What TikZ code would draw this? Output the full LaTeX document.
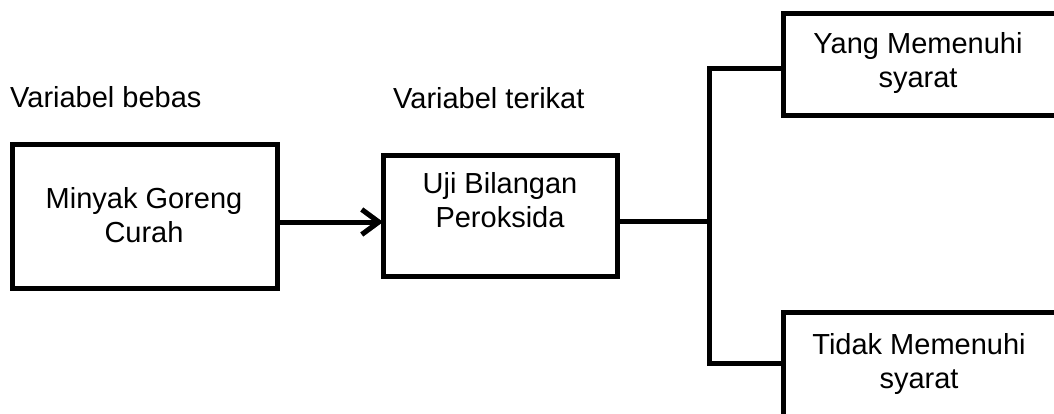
\documentclass[tikz,border=0pt]{standalone}
\usepackage{fontspec}
\setmainfont{Liberation Sans}
\usetikzlibrary{arrows.meta,calc}
\begin{document}
\begin{tikzpicture}[x=1pt,y=-1pt,
  box/.style={draw=black,line width=5pt,minimum width=#1,inner sep=0pt,outer sep=0pt},
  txt/.style={font=\fontsize{29}{34}\selectfont,align=center,inner sep=0pt},
  lab/.style={font=\fontsize{29}{34}\selectfont,inner sep=0pt,anchor=base west},
  conn/.style={line width=5pt,line join=miter},
  shadow/.style={conn,draw=black!38,shift={(-1.5,3.5)}},
  arr/.style={-{Straight Barb[length=17pt,width=25pt]}}
]
\clip (0,0) rectangle (1054,414);
\fill[white] (0,0) rectangle (1054,414);

% boxes
\node[box=265pt,minimum height=143pt] (box1) at (144.5,216.5) {};
\node[box=234pt,minimum height=120pt] (box2) at (500,216) {};
\node[box=307pt,minimum height=102pt] (box3) at (936.5,65) {};
\node[box=307pt,minimum height=128pt] (box4) at (936.5,376) {};

% texts
\node[txt] (t1) at (144,215.5) {Minyak Goreng\\Curah};
\node[txt] (t2) at (500,200) {Uji Bilangan\\Peroksida};
\node[txt] (t3) at (918,63) {Yang Memenuhi\\syarat};
\node[txt] (t4) at (919,364) {Tidak Memenuhi\\syarat};

\node[lab] (l1) at (10,108) {Variabel bebas};
\node[lab] (l2) at (393,109) {Variabel terikat};

% connector coordinates
\coordinate (a) at (0,222);
\coordinate (j) at (709,221);
\coordinate (top) at (709,69);
\coordinate (bot) at (709,363);

% shadows
\draw[shadow,arr] (box1.east |- a) -- (box2.west |- a);
\draw[shadow] (box2.east |- j) -- (j);
\draw[shadow] (top -| box3.west) -- (top) -- (bot) -- (bot -| box4.west);

% connectors
\draw[conn,arr] (box1.east |- a) -- (box2.west |- a);
\draw[conn] (box2.east |- j) -- (j);
\draw[conn] (top -| box3.west) -- (top) -- (bot) -- (bot -| box4.west);

% redraw box borders on top of the connector ends
\node[box=265pt,minimum height=143pt] (b1) at (box1) {};
\node[box=234pt,minimum height=120pt] (b2) at (box2) {};
\node[box=307pt,minimum height=102pt] (b3) at (box3) {};
\node[box=307pt,minimum height=128pt] (b4) at (box4) {};
\end{tikzpicture}
\end{document}
